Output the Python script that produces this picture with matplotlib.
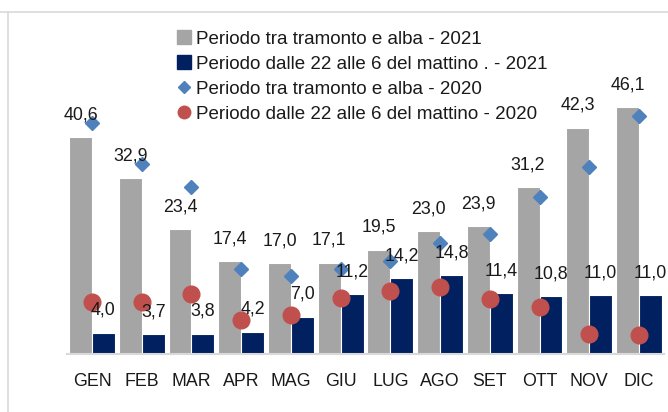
import matplotlib.pyplot as plt
from matplotlib.lines import Line2D

plt.rcParams['font.family'] = ['Liberation Sans', 'DejaVu Sans']

# dati
mesi = ['GEN', 'FEB', 'MAR', 'APR', 'MAG', 'GIU', 'LUG', 'AGO', 'SET', 'OTT', 'NOV', 'DIC']
tramonto_2021 = [40.6, 32.9, 23.4, 17.4, 17.0, 17.1, 19.5, 23.0, 23.9, 31.2, 42.3, 46.1]
notte_2021 = [4.0, 3.7, 3.8, 4.2, 7.0, 11.2, 14.2, 14.8, 11.4, 10.8, 11.0, 11.0]
tramonto_2020 = [43.1, 35.5, 31.3, 15.9, 14.6, 15.8, 17.4, 20.8, 22.4, 29.3, 34.9, 44.5]
notte_2020 = [9.8, 9.8, 11.3, 6.4, 7.2, 10.5, 11.8, 12.5, 10.3, 8.8, 3.7, 3.6]

c_grigio = '#A5A5A5'
c_blu = '#002060'
c_rombo = '#4F81BD'
c_cerchio = '#C0504D'

fig = plt.figure(figsize=(6.68, 4.12), dpi=100)
ax = fig.add_axes([67.2 / 668, 58 / 412, 596.6 / 668, 331.7 / 412])

x = list(range(len(mesi)))
w = 0.46
b1 = ax.bar([i - w / 2 for i in x], tramonto_2021, width=w, color=c_grigio,
            edgecolor='white', linewidth=0.8, zorder=2)
b2 = ax.bar([i + w / 2 for i in x], notte_2021, width=w, color=c_blu,
            edgecolor='white', linewidth=0.8, zorder=2)
ax.plot(x, tramonto_2020, linestyle='none', marker='D', ms=7.2, color=c_rombo, zorder=3)
ax.plot(x, notte_2020, linestyle='none', marker='o', ms=12, color=c_cerchio, zorder=3)

# etichette dei valori
for bars, vals in [(b1, tramonto_2021), (b2, notte_2021)]:
    for r, v in zip(bars, vals):
        ax.annotate(f'{v:.1f}'.replace('.', ','), (r.get_x() + r.get_width() / 2, v),
                    xytext=(0, 16), textcoords='offset points', ha='center', va='center',
                    fontsize=12.8, color='#1a1a1a', zorder=5)

ax.set_xlim(-0.5, 11.5)
ax.set_ylim(0, 62)
ax.set_xticks(x)
ax.set_xticklabels(mesi, fontsize=12.8, color='#1a1a1a')
ax.tick_params(axis='x', length=0, pad=13.5)
ax.set_yticks([])
for s in ['top', 'left', 'right']:
    ax.spines[s].set_visible(False)
ax.spines['bottom'].set_color('#D9D9D9')
ax.spines['bottom'].set_linewidth(1.5)

handles = [
    Line2D([], [], linestyle='none', marker='s', ms=9.4, color=c_grigio),
    Line2D([], [], linestyle='none', marker='s', ms=9.4, color=c_blu),
    Line2D([], [], linestyle='none', marker='D', ms=6.2, color=c_rombo),
    Line2D([], [], linestyle='none', marker='o', ms=9, color=c_cerchio),
]
labels = ['Periodo tra tramonto e alba - 2021',
          'Periodo dalle 22 alle 6 del mattino . - 2021',
          'Periodo tra tramonto e alba - 2020',
          'Periodo dalle 22 alle 6 del mattino - 2020']
fig.legend(handles, labels, loc='upper left', bbox_to_anchor=(177.5 / 668, 1 - 30.5 / 412),
           frameon=False, fontsize=13.5, handlelength=0.74, handletextpad=0.25,
           borderpad=0, borderaxespad=0, labelspacing=0.42, labelcolor='#1a1a1a')

# cornice
fig.add_artist(Line2D([0, 1], [1 - 12 / 412, 1 - 12 / 412], color='#D9D9D9', lw=1.2))
fig.add_artist(Line2D([8 / 668, 8 / 668], [0, 1 - 12 / 412], color='#D9D9D9', lw=1.2))

fig.savefig('out.png', dpi=100)
